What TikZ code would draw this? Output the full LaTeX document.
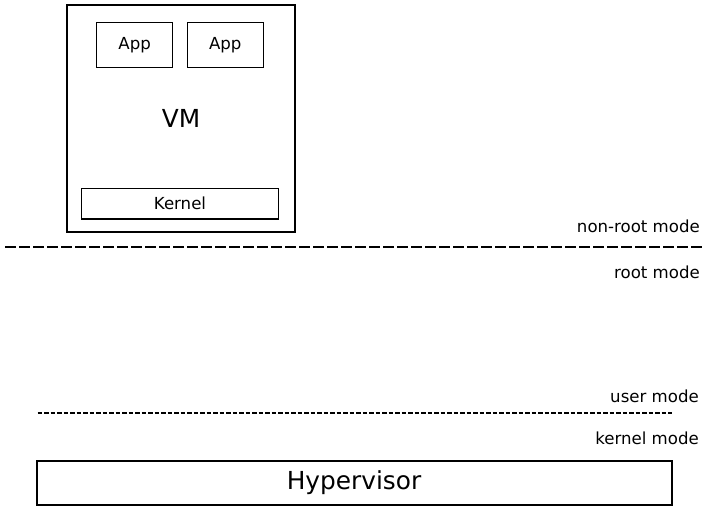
\documentclass[tikz,border=0pt]{standalone}
\usepackage{fontspec}
\setmainfont{DejaVu Sans}
\usetikzlibrary{positioning}

\tikzset{
	smalltext/.style={font=\fontsize{16.6}{19}\selectfont},
	bigtext/.style={font=\fontsize{24.8}{28}\selectfont},
	box/.style={draw, inner sep=0pt, smalltext},
	modelabel/.style={anchor=east, inner sep=0pt, smalltext},
}

\begin{document}
\begin{tikzpicture}[x=1pt, y=-1pt]
			\useasboundingbox (0,0) rectangle (706,506);
			
			% the guest
			\node [box, bigtext, line width=2pt, minimum width=228pt, minimum height=227pt] (vm) at (181, 118.5) {VM};
			\foreach \x/\n in {134.7/1, 225.3/2}
			\node [box, line width=1pt, minimum width=76pt, minimum height=45.4pt] (app\n) at (\x, 45) {App};
			\node [box, line width=1.3pt, minimum width=196.6pt, minimum height=30.3pt] (kernel) at (180, 203.8) {Kernel};
			
			% root / non-root
			\coordinate (rootL) at (5, 247);
			\coordinate (rootR) at (702, 247);
			\draw [line width=2pt, dash pattern=on 11pt off 3pt] (rootL) -- (rootR);
			\node [modelabel] (nonroot) at (700, 226) {non-root mode};
			\node [modelabel] (root) at (700, 272) {root mode};
			
			% user / kernel
			\coordinate (userL) at (37.5, 413);
			\coordinate (userR) at (672, 413);
			\draw [line width=1.2pt, dash pattern=on 4.5pt off 2pt] (userL) -- (userR);
			\node [modelabel] (user) at (699, 396) {user mode};
			\node [modelabel] (kmode) at (699, 438) {kernel mode};
			
			\node [box, bigtext, line width=2pt, minimum width=635pt, minimum height=44pt] (hyp) at (354, 483) {Hypervisor};
\end{tikzpicture}
\end{document}
